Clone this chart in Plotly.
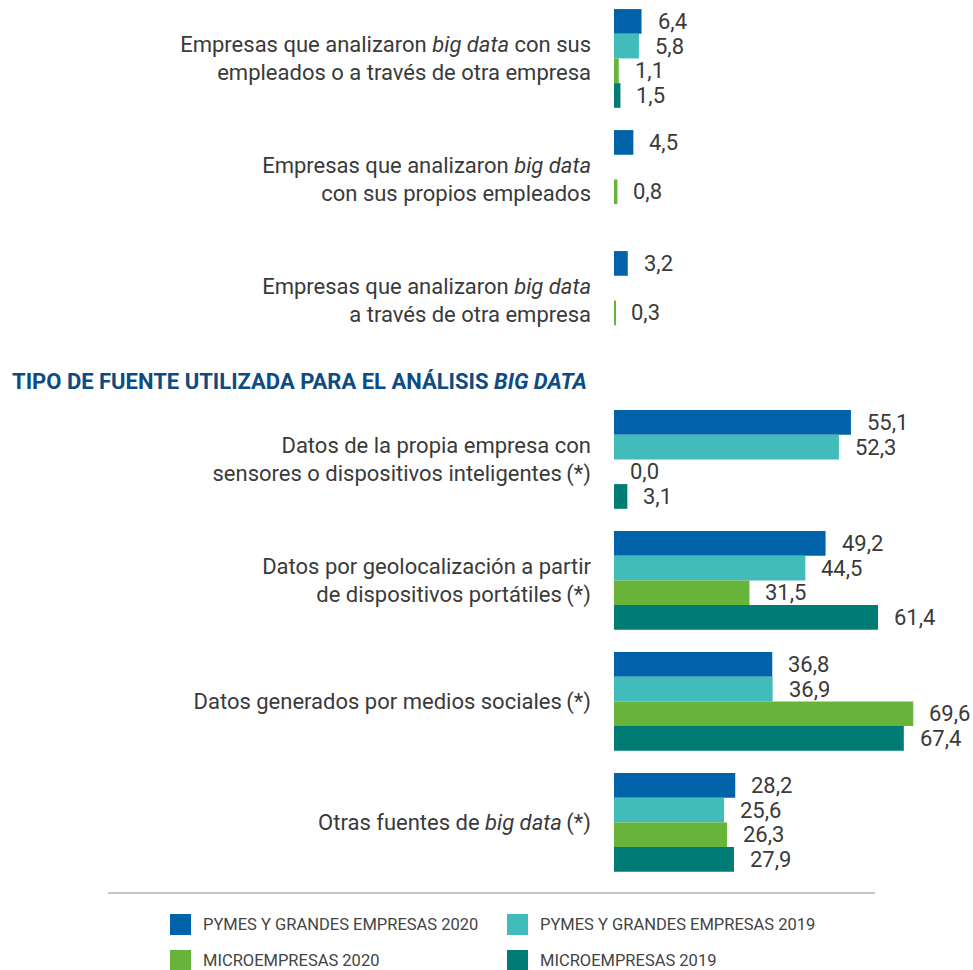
import plotly.graph_objects as go

# ---------------- data ----------------
categories = [
    "Empresas que analizaron <i>big data</i> con sus<br>empleados o a través de otra empresa",
    "Empresas que analizaron <i>big data</i><br>con sus propios empleados",
    "Empresas que analizaron <i>big data</i><br>a través de otra empresa",
    "Datos de la propia empresa con<br>sensores o dispositivos inteligentes\u2009(*)",
    "Datos por geolocalización a partir<br>de dispositivos portátiles\u2009(*)",
    "Datos generados por medios sociales\u2009(*)",
    "Otras fuentes de <i>big data</i>\u2009(*)",
]
section = [0, 0, 0, 1, 1, 1, 1]

series_names = [
    "PYMES Y GRANDES EMPRESAS 2020",
    "PYMES Y GRANDES EMPRESAS 2019",
    "MICROEMPRESAS 2020",
    "MICROEMPRESAS 2019",
]
pymes_2020 = [6.4, 4.5, 3.2, 55.1, 49.2, 36.8, 28.2]
pymes_2019 = [5.8, None, None, 52.3, 44.5, 36.9, 25.6]
micro_2020 = [1.1, 0.8, 0.3, 0.0, 31.5, 69.6, 26.3]
micro_2019 = [1.5, None, None, 3.1, 61.4, 67.4, 27.9]

section_title = "TIPO DE FUENTE UTILIZADA PARA EL ANÁLISIS <i>BIG DATA</i>"

# ---------------- style ----------------
colors = ["#0063a9", "#42bcba", "#68b43a", "#007c74"]
FONT = "Roboto, 'Noto Sans', sans-serif"
TXT = "#3a3a3a"

W, H = 973, 970
ML, MR, MT, MB = 614, 13, 0, 90
PW, PH = W - ML - MR, H - MT - MB
PX_PER_UNIT = 4.30
XMAX = PW / PX_PER_UNIT
GROUP_PX = 121.0
SECTION_GAP = 0.314
BAR_W = 0.204
Y_TOP = -0.483
Y_BOT = Y_TOP + PH / GROUP_PX


def fmt(v):
    return f"{v:.1f}".replace(".", ",")


def px_x(p):
    return (p - ML) / PW


def px_y(p):
    return (MT + PH - p) / PH


centers = [i + s * SECTION_GAP for i, s in enumerate(section)]
all_series = [pymes_2020, pymes_2019, micro_2020, micro_2019]

fig = go.Figure()
annotations = []
for k, (name, vals, col) in enumerate(zip(series_names, all_series, colors)):
    off = (k - 1.5) * BAR_W
    ys = [c + off for c in centers]
    fig.add_trace(go.Bar(
        x=vals, y=ys, orientation="h", width=BAR_W, name=name,
        marker=dict(color=col, line=dict(width=0)), showlegend=False,
        hoverinfo="x+name",
    ))
    for v, yy in zip(vals, ys):
        if v is None:
            continue
        annotations.append(dict(
            x=v, y=yy, xref="x", yref="y", text=fmt(v), showarrow=False,
            xanchor="left", yanchor="middle", xshift=14,
            font=dict(family=FONT, size=22, color=TXT),
        ))

# section title
annotations.append(dict(
    x=px_x(10), y=px_y(381), xref="paper", yref="paper",
    text="<b>" + section_title + "</b>", showarrow=False,
    xanchor="left", yanchor="middle",
    font=dict(family=FONT, size=22, color="#0d4c82"),
))

shapes = [dict(
    type="line", xref="paper", yref="paper",
    x0=px_x(108), x1=px_x(875), y0=px_y(893), y1=px_y(893),
    line=dict(color="#c4c4c4", width=2),
)]

# legend (2 columns x 2 rows)
leg_x = [170, 507, 170, 507]
leg_y = [924.5, 924.5, 960.5, 960.5]
for name, col, lx, ly in zip(series_names, colors, leg_x, leg_y):
    shapes.append(dict(
        type="rect", xref="paper", yref="paper",
        x0=px_x(lx), x1=px_x(lx + 21), y0=px_y(ly - 10.5), y1=px_y(ly + 10.5),
        fillcolor=col, line=dict(width=0),
    ))
    annotations.append(dict(
        x=px_x(lx + 31), y=px_y(ly), xref="paper", yref="paper",
        text=name, showarrow=False, xanchor="left", yanchor="middle",
        font=dict(family=FONT, size=16.5, color="#444444"),
    ))

fig.update_layout(
    width=W, height=H,
    margin=dict(l=ML, r=MR, t=MT, b=MB, pad=0),
    paper_bgcolor="white", plot_bgcolor="white",
    barmode="overlay",
    font=dict(family=FONT, size=22, color=TXT),
    xaxis=dict(visible=False, range=[0, XMAX], fixedrange=True),
    yaxis=dict(
        range=[Y_BOT, Y_TOP], tickmode="array", tickvals=centers, ticktext=categories,
        showgrid=False, zeroline=False, showline=False, ticks="",
        ticklabelstandoff=22, tickfont=dict(family=FONT, size=22, color=TXT),
        fixedrange=True,
    ),
    annotations=annotations,
    shapes=shapes,
)

fig.write_html(
    "out.html",
    config={"displayModeBar": False},
    post_script="document.body.style.margin='0';document.body.style.overflow='hidden';",
)
